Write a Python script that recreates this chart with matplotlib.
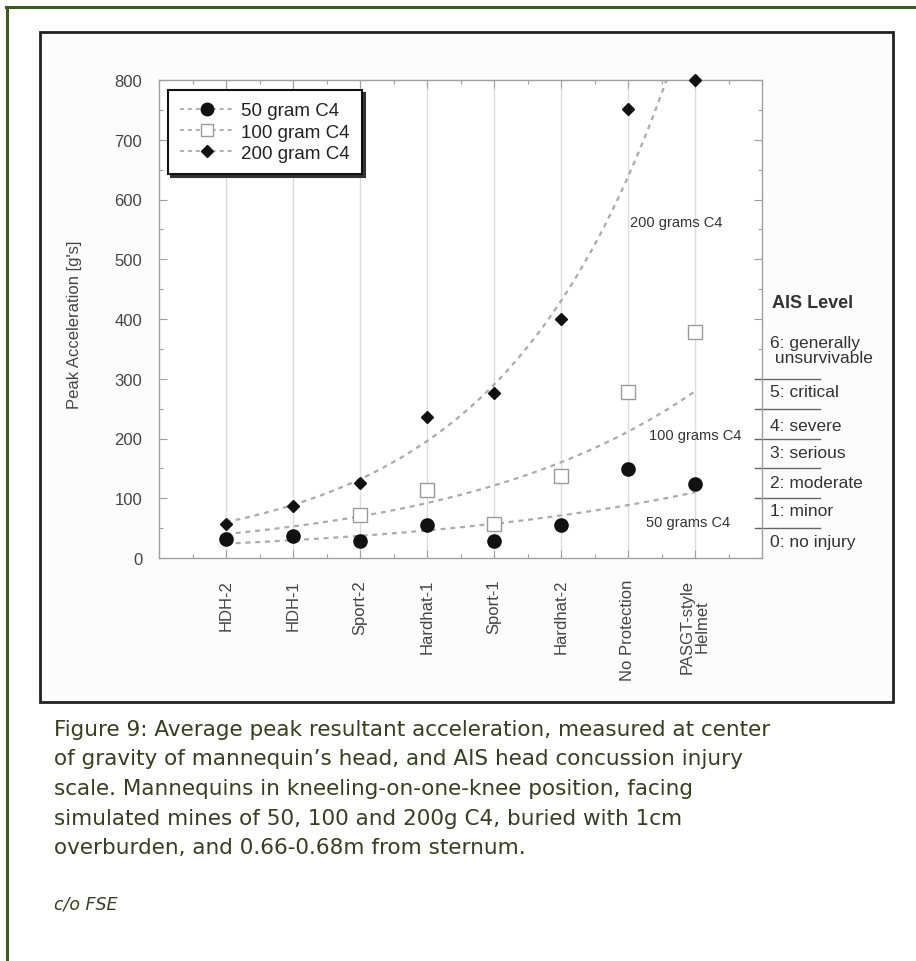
import numpy as np
import matplotlib
matplotlib.use("Agg")
import matplotlib.pyplot as plt
from matplotlib.lines import Line2D
from matplotlib.patches import Rectangle
import matplotlib.transforms as mtransforms

# ---------------- data ----------------
categories = ["HDH-2", "HDH-1", "Sport-2", "Hardhat-1", "Sport-1",
              "Hardhat-2", "No Protection", "PASGT-style\nHelmet"]
c4_50g = [32, 36, 28, 55, 28, 55, 149, 124]
c4_100g = [np.nan, np.nan, 72, 114, 57, 137, 278, 378]
c4_200g = [57, 87, 126, 236, 276, 400, 752, 800]
series_labels = ["50 gram C4", "100 gram C4", "200 gram C4"]

# exponential trend lines: value at first and last category
trend_labels = ["50 grams C4", "100 grams C4", "200 grams C4"]
trend_start = [24, 40, 60]
trend_end = [110, 279, 946]

# AIS head concussion injury scale
ais_thresholds = [50, 100, 150, 200, 250, 300]
ais_levels = ["0: no injury", "1: minor", "2: moderate", "3: serious",
              "4: severe", "5: critical", "6: generally\n unsurvivable"]
yticks = [0, 100, 200, 300, 400, 500, 600, 700, 800]

caption_lines = [
    "Figure 9: Average peak resultant acceleration, measured at center",
    "of gravity of mannequin\u2019s head, and AIS head concussion injury",
    "scale. Mannequins in kneeling-on-one-knee position, facing",
    "simulated mines of 50, 100 and 200g C4, buried with 1cm",
    "overburden, and 0.66-0.68m from sternum.",
]
credit = "c/o FSE"

# ---------------- figure ----------------
W, H = 916, 962
fig = plt.figure(figsize=(W / 100, H / 100), dpi=100)
fig.patch.set_facecolor("white")

def fx(px):
    return px / W

def fy(py):
    return 1 - py / H

# outer green frame (top + left) and inner black box
fig.add_artist(Line2D([fx(6), fx(916)], [fy(8), fy(8)], color="#3b5a1f", lw=2.2,
                      transform=fig.transFigure))
fig.add_artist(Line2D([fx(7), fx(7)], [fy(8), fy(962)], color="#3b5a1f", lw=2.2,
                      transform=fig.transFigure))
fig.add_artist(Rectangle((fx(40), fy(703)), fx(893) - fx(40), fy(33) - fy(703),
                         transform=fig.transFigure, fill=True, facecolor="#fcfcfc",
                         edgecolor="#222222", lw=2, zorder=0))

plt.rcParams["font.family"] = ["Liberation Sans", "DejaVu Sans"]

ax = fig.add_axes([fx(159), fy(559), fx(762) - fx(159), fy(81) - fy(559)])
ax.set_facecolor("white")
x = np.arange(1, len(categories) + 1)
ax.set_xlim(0, len(categories) + 1)
ax.set_ylim(0, 800)

for sp in ax.spines.values():
    sp.set_color("#a0a0a0")
    sp.set_linewidth(1.0)

ax.set_xticks(x)
ax.set_xticklabels(categories, rotation=90, fontsize=12, color="#444444",
                   linespacing=1.0)
ax.set_xticks(np.arange(0.5, len(categories) + 1, 1.0), minor=True)
ax.set_yticks(yticks)
ax.set_yticklabels([str(v) for v in yticks], fontsize=12, color="#444444")
ax.set_yticks(np.arange(50, 800, 100), minor=True)
ax.tick_params(which="both", direction="in", top=True, right=True,
               color="#a0a0a0")
ax.tick_params(which="major", length=6, width=0.8)
ax.tick_params(which="minor", length=3, width=0.8)
ax.tick_params(axis="y", which="major", pad=12)
ax.tick_params(axis="x", which="major", pad=15)
ax.grid(axis="x", which="major", color="#dcdcdc", lw=1.0)
ax.set_axisbelow(True)

ax.set_ylabel("Peak Acceleration [g's]", fontsize=12, color="#444444")
ax.yaxis.set_label_coords((82 - 159) / 603, 0.49)

# trend lines
dash_col = "#ababab"
xs = np.linspace(x[0], x[-1], 300)
for s, e in zip(trend_start, trend_end):
    ys = s * (e / s) ** ((xs - x[0]) / (x[-1] - x[0]))
    ax.plot(xs, ys, color=dash_col, lw=1.6, dashes=(2.2, 2.2), zorder=2)

# data markers
ax.plot(x, c4_100g, ls="none", marker="s", ms=9.5, mfc="white", mec="#9a9a9a",
        mew=1.0, zorder=3, clip_on=False)
ax.plot(x, c4_50g, ls="none", marker="o", ms=9.5, mfc="#111111", mec="#111111",
        zorder=4, clip_on=False)
ax.plot(x, c4_200g, ls="none", marker="D", ms=6.5, mfc="#111111", mec="#111111",
        zorder=4, clip_on=False)

# trend labels
trend_pos = [(7.9, 60), (8.0, 206), (7.72, 563)]
for lab, (tx, ty) in zip(trend_labels, trend_pos):
    ax.text(tx, ty, lab, fontsize=10.5, color="#333333", ha="center", va="center")

# legend
handles = [
    Line2D([], [], color=dash_col, lw=1.3, dashes=(2.2, 2.2), marker="o", ms=9,
           mfc="#111111", mec="#111111"),
    Line2D([], [], color=dash_col, lw=1.3, dashes=(2.2, 2.2), marker="s", ms=9,
           mfc="white", mec="#9a9a9a"),
    Line2D([], [], color=dash_col, lw=1.3, dashes=(2.2, 2.2), marker="D", ms=6.5,
           mfc="#111111", mec="#111111"),
]
leg = ax.legend(handles, series_labels, loc="upper left",
                bbox_to_anchor=((168 - 159) / 603, (559 - 91) / 478),
                borderaxespad=0, fontsize=13.5, frameon=True, fancybox=False,
                numpoints=1, handlelength=2.9, handletextpad=0.35,
                labelspacing=0.22, borderpad=0.65,
                shadow={"color": "#333333", "alpha": 1.0})
leg.get_frame().set_edgecolor("#111111")
leg.get_frame().set_linewidth(1.5)
for t in leg.get_texts():
    t.set_color("#222222")

# AIS level scale to the right
blend = mtransforms.blended_transform_factory(ax.transAxes, ax.transData)
xl0, xl1 = (755 - 159) / 603, (820 - 159) / 603
for thr in ais_thresholds:
    ax.add_line(Line2D([xl0, xl1], [thr, thr], transform=blend, color="#666666",
                       lw=1.0, clip_on=False))
ais_y = [27, 79, 127, 176, 221, 279, 348]
xt = (770 - 159) / 603
for lab, yy in zip(ais_levels, ais_y):
    ax.text(xt, yy, lab, transform=blend, fontsize=12.5, color="#333333",
            ha="left", va="center", linespacing=1.05)
ax.text((772 - 159) / 603, 428, "AIS Level", transform=blend, fontsize=13,
        fontweight="bold", color="#333333", ha="left", va="center")

# caption
cap_col = "#34401f"
line_y = [730, 759, 789, 819, 848]
for txt, yy in zip(caption_lines, line_y):
    fig.text(fx(54), fy(yy), txt, fontsize=15.5, color=cap_col,
             family="DejaVu Sans", ha="left", va="center")
fig.text(fx(54), fy(905), credit, fontsize=12.5, color=cap_col,
         family="DejaVu Sans", style="italic", ha="left", va="center")

fig.savefig("out.png", dpi=100, facecolor="white")
